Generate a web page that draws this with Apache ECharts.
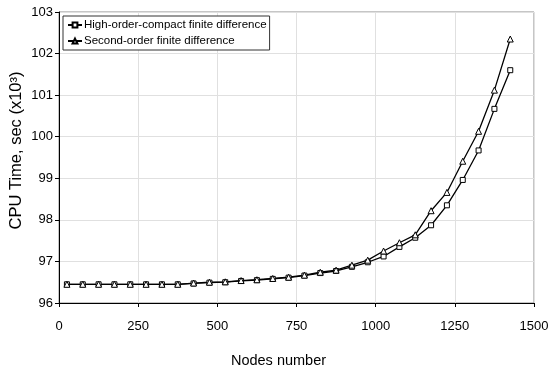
<!DOCTYPE html>
<html>
<head>
<meta charset="utf-8">
<script src="https://cdn.jsdelivr.net/npm/echarts@6/dist/echarts.min.js"></script>
<style>
  html, body { margin: 0; padding: 0; background: #fff; }
  #chart { width: 550px; height: 369px; }
</style>
</head>
<body>
<div id="chart"></div>
<script>
const nodes = [25, 75, 125, 175, 225, 275, 325, 375, 425, 475, 525, 575, 625, 675, 725,
  775, 825, 875, 925, 975, 1025, 1075, 1125, 1175, 1225, 1275, 1325, 1375, 1425];

const highOrder = [96.45, 96.45, 96.45, 96.45, 96.45, 96.45, 96.45, 96.45, 96.47, 96.49,
  96.50, 96.53, 96.55, 96.58, 96.61, 96.66, 96.72, 96.77, 96.87, 96.98,
  97.12, 97.35, 97.57, 97.87, 98.35, 98.96, 99.67, 100.67, 101.60];

const secondOrder = [96.45, 96.45, 96.45, 96.45, 96.45, 96.45, 96.45, 96.45, 96.48, 96.50,
  96.51, 96.54, 96.56, 96.59, 96.62, 96.67, 96.74, 96.79, 96.91, 97.03,
  97.25, 97.45, 97.64, 98.22, 98.66, 99.41, 100.13, 101.12, 102.35];

const FONT = '"Liberation Sans", Arial, sans-serif';

const chart = echarts.init(document.getElementById('chart'), null, { renderer: 'canvas' });

const pairs = (ys) => nodes.map((x, i) => [x, ys[i]]);

const lineSeries = (name, symbol, ys) => ({
  name,
  type: 'line',
  data: pairs(ys),
  symbol,
  symbolSize: symbol === 'rect' ? 5 : 6,
  showAllSymbol: true,
  lineStyle: { color: '#000', width: 1.3 },
  itemStyle: { color: '#fff', borderColor: '#000', borderWidth: 1 },
  emphasis: { disabled: true },
  z: 3
});

chart.setOption({
  backgroundColor: '#fff',
  animation: false,
  grid: {
    left: 59, right: 16, top: 12, bottom: 66,
    containLabel: false,
    outerBoundsMode: 'none',
    show: true, borderColor: '#8c8c8c', borderWidth: 1
  },
  legend: {
    orient: 'vertical',
    left: 63, top: 16,
    padding: [3, 3, 3, 4],
    itemGap: 4,
    itemWidth: 14, itemHeight: 6,
    borderColor: '#333', borderWidth: 1, borderRadius: 0,
    backgroundColor: '#fff',
    textStyle: { fontFamily: FONT, fontSize: 11.5, color: '#000', padding: [0, 0, 0, -3] },
    data: ['High-order-compact finite difference', 'Second-order finite difference']
  },
  xAxis: {
    type: 'value',
    min: 0, max: 1500, interval: 250,
    name: 'Nodes number',
    nameLocation: 'middle',
    nameGap: 50,
    nameMoveOverlap: false,
    nameTextStyle: { fontFamily: FONT, fontSize: 14.5, color: '#000', padding: [0, 36, 0, 0] },
    axisLine: { show: true, lineStyle: { color: '#000', width: 1 } },
    axisTick: { show: true, length: 4, lineStyle: { color: '#000' } },
    axisLabel: { fontFamily: FONT, fontSize: 13, color: '#000', margin: 17, formatter: (v) => String(v) },
    splitLine: { show: true, lineStyle: { color: '#e0e0e0', width: 1 } }
  },
  yAxis: {
    type: 'value',
    min: 96, max: 103, interval: 1,
    name: 'CPU Time, sec (x10³)',
    nameLocation: 'middle',
    nameGap: 34,
    nameMoveOverlap: false,
    nameTextStyle: { fontFamily: FONT, fontSize: 16.5, color: '#000', padding: [0, 0, 0, 14] },
    axisLine: { show: true, lineStyle: { color: '#000', width: 1 } },
    axisTick: { show: true, length: 4, lineStyle: { color: '#000' } },
    axisLabel: { fontFamily: FONT, fontSize: 13, color: '#000', margin: 6 },
    splitLine: { show: true, lineStyle: { color: '#e0e0e0', width: 1 } }
  },
  series: [
    lineSeries('High-order-compact finite difference', 'rect', highOrder),
    lineSeries('Second-order finite difference', 'triangle', secondOrder)
  ]
});
</script>
</body>
</html>
